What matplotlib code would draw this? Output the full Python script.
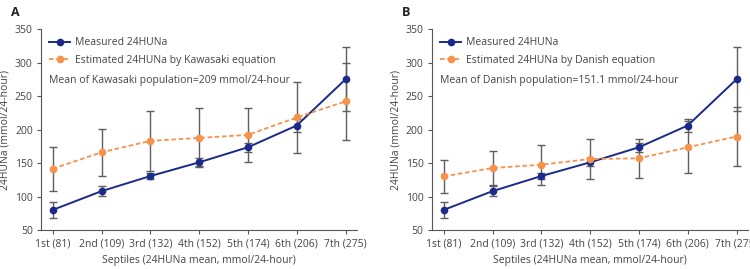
import matplotlib.pyplot as plt

plt.rcParams['font.family'] = ['Open Sans', 'DejaVu Sans']

septiles = ['1st (81)', '2nd (109)', '3rd (132)', '4th (152)', '5th (174)', '6th (206)', '7th (275)']

measured = [80, 108, 130.5, 151, 173.5, 206, 275]
measured_err = [12, 7, 5, 6, 7, 10, 48]

est_kawasaki = [141.5, 166, 183, 187.5, 192, 218, 242]
est_kawasaki_err = [33, 35, 45, 44, 40, 53, 58]

est_danish = [130, 142.5, 147.5, 156, 157, 173.5, 189.5]
est_danish_err = [24.5, 26, 30, 30, 29, 39, 44]

panels = [
    ('A', est_kawasaki, est_kawasaki_err, 'Estimated 24HUNa by Kawasaki equation',
     'Mean of Kawasaki population=209 mmol/24-hour'),
    ('B', est_danish, est_danish_err, 'Estimated 24HUNa by Danish equation',
     'Mean of Danish population=151.1 mmol/24-hour'),
]

navy = '#1b2a8a'
orange = '#f6924a'
grey = '#5e5e5e'
txt = '#444444'

fig = plt.figure(figsize=(7.5, 2.69), dpi=100)
lefts = [0.0547, 0.576]
x = list(range(len(septiles)))

for (label, est, est_err, est_name, mean_text), left in zip(panels, lefts):
    ax = fig.add_axes([left, 0.145, 0.421, 0.747])
    ax.errorbar(x, est, yerr=est_err, fmt='none', ecolor=grey, elinewidth=1, capsize=3, capthick=1, zorder=2)
    ax.errorbar(x, measured, yerr=measured_err, fmt='none', ecolor=grey, elinewidth=1, capsize=3, capthick=1, zorder=2)
    ax.plot(x, measured, '-o', color=navy, lw=1.4, ms=4.5, label='Measured 24HUNa', zorder=3)
    ax.plot(x, est, '--o', color=orange, lw=1.3, ms=4.5, dashes=(2.5, 1.5), label=est_name, zorder=3)
    ax.set_xlim(-0.24, 6.23)
    ax.set_ylim(50, 350)
    ax.set_yticks([50, 100, 150, 200, 250, 300, 350])
    ax.set_xticks(x)
    ax.set_xticklabels(septiles)
    for s in ['top', 'right']:
        ax.spines[s].set_visible(False)
    for s in ['left', 'bottom']:
        ax.spines[s].set_color('#555555')
        ax.spines[s].set_linewidth(0.8)
    ax.tick_params(labelsize=7.5, colors='#555555', labelcolor=txt, length=3, width=0.8, pad=3)
    ax.set_xlabel('Septiles (24HUNa mean, mmol/24-hour)', fontsize=7.5, color=txt, labelpad=4)
    ax.set_ylabel('24HUNa (mmol/24-hour)', fontsize=7.5, color=txt, labelpad=3)
    leg = ax.legend(loc='upper left', bbox_to_anchor=(0.0, 1.0), frameon=False, fontsize=7.5,
                    handlelength=2.0, handletextpad=0.5, labelspacing=0.6, borderaxespad=0.4)
    for t in leg.get_texts():
        t.set_color(txt)
    ax.text(0.025, 0.745, mean_text, transform=ax.transAxes, fontsize=7.5, color=txt, va='center')
    fig.text(left - 0.04, 0.955, label, fontsize=9, fontweight='bold', color='#222222', va='center')

fig.savefig('out.png', dpi=100)
